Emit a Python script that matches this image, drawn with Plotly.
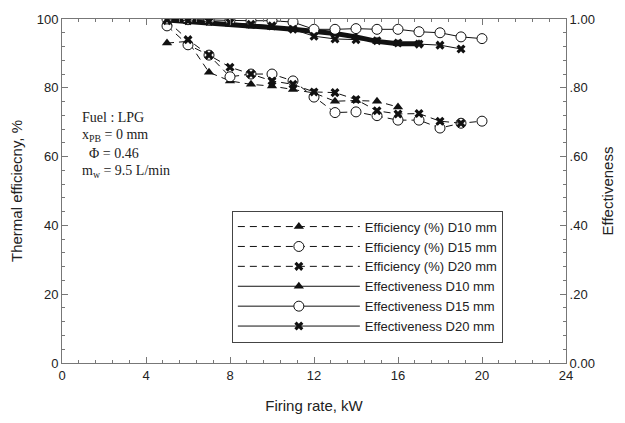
import plotly.graph_objects as go

# ---- data ----
firing_d10 = [5, 6, 7, 8, 9, 10, 11, 12, 13, 14, 15, 16]
eff_d10 = [93, 93.5, 84.5, 82, 81, 80.5, 79.5, 78.5, 76.1, 76.3, 76.1, 74.4]

firing_d15 = [5, 6, 7, 8, 9, 10, 11, 12, 13, 14, 15, 16, 17, 18, 19, 20]
eff_d15 = [98, 92.5, 89.5, 83.2, 84, 84, 82, 77.3, 72.8, 73, 71.9, 70.6, 70.6, 68.3, 69.7, 70.3]

firing_d20 = [5, 6, 7, 8, 9, 10, 11, 12, 13, 14, 15, 16, 17, 18, 19]
eff_d20 = [99.5, 94, 89.5, 86, 84, 82, 81, 78.8, 78.6, 76.6, 73.3, 72.4, 72.5, 70.3, 69.7]

firing_e10 = [5, 6, 7, 8, 9, 10, 11, 12, 13, 14, 15, 16, 17]
effect_d10 = [0.997, 0.993, 0.99, 0.985, 0.98, 0.975, 0.97, 0.965, 0.958, 0.948, 0.935, 0.928, 0.928]

firing_e15 = [5, 6, 7, 8, 9, 10, 11, 12, 13, 14, 15, 16, 17, 18, 19, 20]
effect_d15 = [1.0, 0.998, 0.997, 0.996, 0.995, 0.995, 0.991, 0.97, 0.97, 0.972, 0.97, 0.97, 0.963, 0.96, 0.948, 0.943]

firing_e20 = [5, 6, 7, 8, 9, 10, 11, 12, 13, 14, 15, 16, 17, 18, 19]
effect_d20 = [0.998, 0.995, 0.993, 0.99, 0.985, 0.98, 0.97, 0.95, 0.942, 0.94, 0.937, 0.93, 0.927, 0.924, 0.913]

left_ticks = [0, 20, 40, 60, 80, 100]
right_tickvals = [0, 0.2, 0.4, 0.6, 0.8, 1.0]
right_ticktext = ["0.00", ".20", ".40", ".60", ".80", "1.00"]
x_ticks = [0, 4, 8, 12, 16, 20, 24]

BLACK = "#111111"
AX = "#777777"

tri = dict(symbol="triangle-up", size=9, color=BLACK)
circ = dict(symbol="circle", size=10, color="white", line=dict(color=BLACK, width=1))
ex = dict(symbol="x", size=8, color=BLACK, line=dict(width=0))
dash = "7px,5px"

fig = go.Figure()
fig.add_trace(go.Scatter(x=firing_d10, y=eff_d10, mode="lines+markers", name="Efficiency (%) D10 mm",
                         line=dict(color=BLACK, width=1, dash=dash), marker=tri))
fig.add_trace(go.Scatter(x=firing_d15, y=eff_d15, mode="lines+markers", name="Efficiency (%) D15 mm",
                         line=dict(color=BLACK, width=1, dash=dash), marker=circ))
fig.add_trace(go.Scatter(x=firing_d20, y=eff_d20, mode="lines+markers", name="Efficiency (%) D20 mm",
                         line=dict(color=BLACK, width=1, dash=dash), marker=ex))
# effectiveness D10: thick band in the drawing; legend uses a thin sample
fig.add_trace(go.Scatter(x=firing_e10, y=effect_d10, mode="lines+markers", showlegend=False,
                         line=dict(color=BLACK, width=5), marker=tri, yaxis="y2"))
fig.add_trace(go.Scatter(x=[None], y=[None], mode="lines+markers", name="Effectiveness D10 mm",
                         line=dict(color=BLACK, width=1), marker=tri, yaxis="y2"))
fig.add_trace(go.Scatter(x=firing_e15, y=effect_d15, mode="lines+markers", name="Effectiveness D15 mm",
                         line=dict(color=BLACK, width=1), marker=circ, yaxis="y2"))
fig.add_trace(go.Scatter(x=firing_e20, y=effect_d20, mode="lines+markers", name="Effectiveness D20 mm",
                         line=dict(color=BLACK, width=1), marker=ex, yaxis="y2"))

tickfont = dict(family="Liberation Sans, Arial", size=13, color="#222222")
titlefont = dict(family="Liberation Sans, Arial", size=15, color="#222222")

fig.update_layout(
    width=625, height=423,
    margin=dict(l=62, r=58, t=16, b=55),
    paper_bgcolor="white", plot_bgcolor="white",
    showlegend=True,
    legend=dict(x=0.337, y=0.443, xanchor="left", yanchor="top",
                bordercolor="#444444", borderwidth=1, bgcolor="white",
                font=dict(family="Liberation Sans, Arial", size=13, color="#222222"),
                itemwidth=122, tracegroupgap=0, traceorder="normal"),
    xaxis=dict(range=[0, 24], tickvals=x_ticks, ticks="inside", ticklen=6, tickcolor=AX,
               minor=dict(dtick=0.8, tick0=0, ticks="inside", ticklen=3, tickcolor=AX),
               showline=True, linecolor=AX, linewidth=1, mirror="ticks", showgrid=False, zeroline=False,
               tickfont=tickfont, title=dict(text="Firing rate, kW", font=titlefont, standoff=18)),
    yaxis=dict(range=[0, 100], tickvals=left_ticks, ticks="inside", ticklen=6, tickcolor=AX,
               minor=dict(dtick=4, tick0=0, ticks="inside", ticklen=3, tickcolor=AX),
               showline=True, linecolor=AX, linewidth=1, showgrid=False, zeroline=False,
               tickfont=tickfont, title=dict(text="Thermal efficiecny, %", font=titlefont, standoff=10)),
    yaxis2=dict(range=[0, 1], overlaying="y", side="right", tickvals=right_tickvals, ticktext=right_ticktext,
                ticks="inside", ticklen=6, tickcolor=AX,
                minor=dict(dtick=0.04, tick0=0, ticks="inside", ticklen=3, tickcolor=AX),
                showline=True, linecolor=AX, linewidth=1, showgrid=False, zeroline=False,
                tickfont=tickfont, title=dict(text="Effectiveness", font=titlefont, standoff=8)),
)

serif = dict(family="Liberation Serif, Times New Roman", size=14, color="#222222")
notes = [
    ("Fuel : LPG", 117),
    ("x<sub>PB</sub> = 0 mm", 135),
    ("  \u03a6 = 0.46", 154),
    ("m<sub>w</sub> = 9.5 L/min", 172),
]
for txt, ypx in notes:
    fig.add_annotation(text=txt, xref="paper", yref="paper", x=(80 - 62) / 505, y=(368 - ypx) / 352,
                       xanchor="left", yanchor="middle", showarrow=False, font=serif)

fig.write_html("out.html")
